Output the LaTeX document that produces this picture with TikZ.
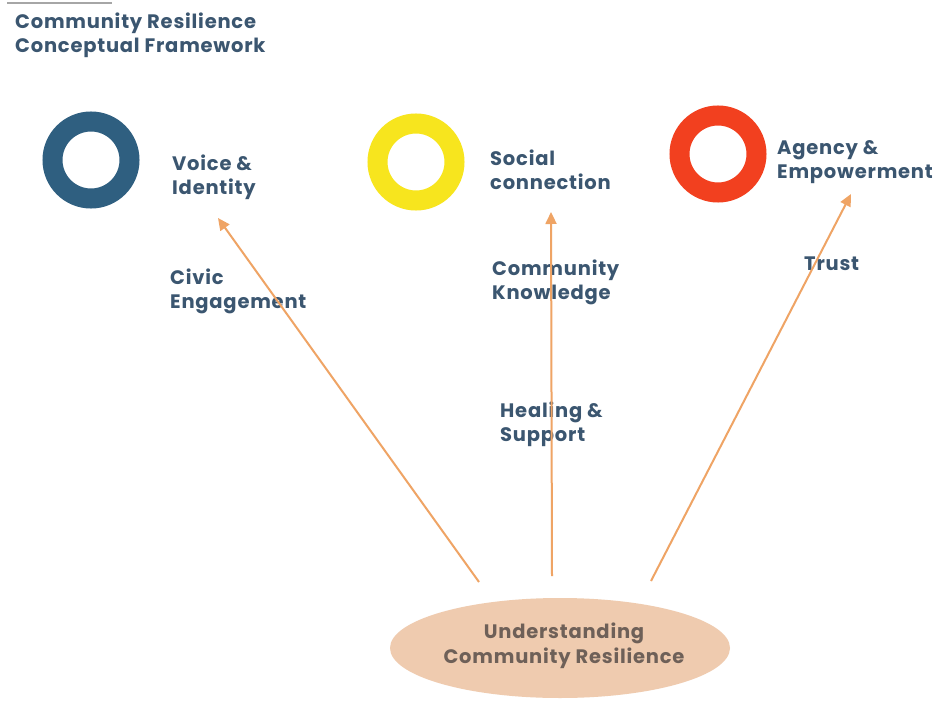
\documentclass[tikz,border=0pt]{standalone}
\usepackage{fontspec}
\setmainfont{Poppins}[LetterSpace=4]
\usetikzlibrary{arrows.meta,shapes.geometric}
\definecolor{txt}{HTML}{3B5670}
\definecolor{ringblue}{HTML}{2F5F80}
\definecolor{ringyellow}{HTML}{F7E51E}
\definecolor{ringred}{HTML}{F2401F}
\definecolor{arrc}{HTML}{EFA465}
\definecolor{peach}{HTML}{EFCBAF}
\definecolor{elltxt}{HTML}{6E6058}
\begin{document}
\begin{tikzpicture}[x=1pt,y=-1pt,
  lbl/.style={anchor=north west, inner sep=0pt, align=left, text=txt,
    font=\bfseries\fontsize{19.5}{24}\selectfont},
  arr/.style={draw=arrc, line width=2pt, -{Triangle[length=12pt,width=11pt]}},
  ring/.style={circle, inner sep=0pt, minimum size=77pt, line width=20pt}]
\useasboundingbox[fill=white] (0,0) rectangle (948,706);
\draw[gray!70, line width=1.5pt] (7,3) -- (112,3);
\node[lbl] (title) at (15,13) {Community Resilience\\Conceptual Framework};

\node[ring, draw=ringblue] (r1) at (91,160) {};
\node[ring, draw=ringyellow] (r2) at (416,162) {};
\node[ring, draw=ringred] (r3) at (718,154) {};

\node[lbl] (voice) at (172,155) {Voice \&\\Identity};
\node[lbl] (social) at (490,150) {Social\\connection};
\node[lbl] (agency) at (777,140) {Agency \&\\Empowerment};

\node[lbl] (civic) at (170,269) {Civic\\Engagement};
\node[lbl] (know) at (492,260) {Community\\Knowledge};
\node[lbl] (heal) at (500,402) {Healing \&\\Support};
\node[lbl] (trust) at (804,257) {Trust};

\node[ellipse, fill=peach, minimum width=340pt, minimum height=100pt, inner sep=0pt] (base) at (560,648) {};
\node[align=center, inner sep=0pt, text=elltxt, font=\bfseries\fontsize{19.5}{25}\selectfont] (basetext) at (564,646) {Understanding\\Community Resilience};

\coordinate (l0) at (479,582);
\coordinate (l1) at (218,218);
\coordinate (m0) at (552,576);
\coordinate (m1) at (551,212);
\coordinate (q0) at (651,581);
\coordinate (q1) at (851,194);
\draw[arr] (l0) -- (l1);
\draw[arr] (m0) -- (m1);
\draw[arr] (q0) -- (q1);
\end{tikzpicture}
\end{document}
